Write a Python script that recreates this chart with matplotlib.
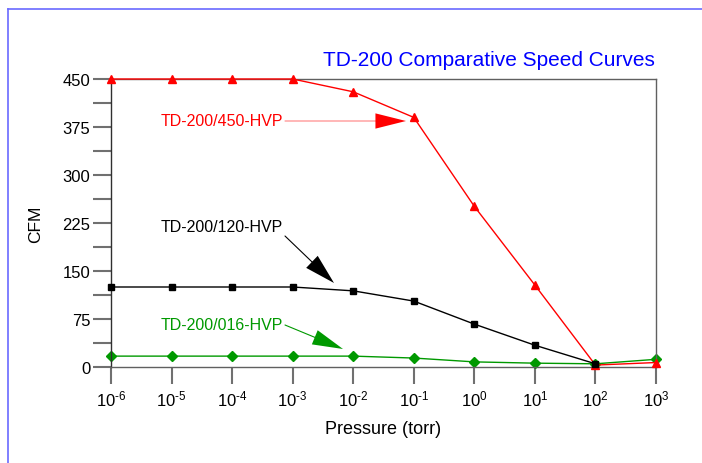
import numpy as np
import matplotlib
matplotlib.use("Agg")
import matplotlib.pyplot as plt
from matplotlib.lines import Line2D

plt.rcParams['font.family'] = ['Liberation Sans', 'DejaVu Sans']
plt.rcParams['mathtext.fontset'] = 'custom'
plt.rcParams['mathtext.rm'] = 'Liberation Sans'
plt.rcParams['mathtext.it'] = 'Liberation Sans'
plt.rcParams['axes.unicode_minus'] = False

# pressure in torr (decades)
exponents = np.arange(-6, 4)
pressure = 10.0 ** exponents

cfm_450 = [450, 450, 450, 450, 430, 390, 251, 128, 3, 7]
cfm_120 = [125, 125, 125, 125, 119, 103, 67, 34, 5]
cfm_016 = [17, 17, 17, 17, 17, 14, 8, 6, 5, 12]

labels = ['TD-200/450-HVP', 'TD-200/120-HVP', 'TD-200/016-HVP']
colors = ['#ff0000', '#000000', '#009900']
title = 'TD-200 Comparative Speed Curves'
yticks = [0, 75, 150, 225, 300, 375, 450]

W, H = 702, 464
fig = plt.figure(figsize=(W / 100, H / 100), dpi=100)
ax = fig.add_axes([111 / W, 1 - 368 / H, (656 - 111) / W, (368 - 80) / H])

# blue frame around the page
fig.add_artist(Line2D([8 / W, 1.0], [1 - 10 / H, 1 - 10 / H], color='#6a6aff', lw=1.2))
fig.add_artist(Line2D([8 / W, 8 / W], [0, 1 - 10 / H], color='#6a6aff', lw=1.2))

ax.plot(pressure, cfm_450, color=colors[0], lw=1.0, marker='^', ms=5.5, zorder=3, clip_on=False)
ax.plot(pressure[:len(cfm_120)], cfm_120, color=colors[1], lw=1.0, marker='s', ms=5, zorder=4, clip_on=False)
ax.plot(pressure, cfm_016, color=colors[2], lw=1.0, marker='D', ms=5, zorder=2, clip_on=False)

ax.set_xscale('log')
ax.set_xlim(pressure[0], pressure[-1])
ax.set_ylim(0, 450)
ax.set_xticks(pressure)
ax.set_xticklabels([r'$\mathregular{10^{\text{%d}}}$' % e for e in exponents], fontsize=12)
ax.xaxis.set_minor_locator(matplotlib.ticker.NullLocator())
ax.set_yticks(yticks)
ax.set_yticklabels([str(v) for v in yticks], fontsize=12)
ax.set_yticks(np.arange(37.5, 450, 75), minor=True)

ax.tick_params(axis='x', which='major', direction='out', length=12.5, width=1.5,
               color='#707070', pad=3)
ax.tick_params(axis='y', which='both', direction='out', length=13, width=1.5,
               color='#707070', pad=2)
ax.tick_params(axis='x', which='minor', length=0)

ax.spines['left'].set_color('#303030')
for s in ['top', 'right', 'bottom']:
    ax.spines[s].set_color('#606060')
for s in ax.spines.values():
    s.set_linewidth(1.0)

ax.set_xlabel('Pressure (torr)', fontsize=13, labelpad=8)
ax.set_ylabel('CFM', fontsize=12.5, labelpad=14)

fig.text(655 / W, 1 - 60 / H, title, color='#0000ff', fontsize=15,
         ha='right', va='center')

# callouts: label position, arrow start, arrow tip (image pixels)
callouts = [
    ((283, 122), (285, 122), (406, 122), '#ff8080', 2.2, 0.55),
    ((283, 228), (285, 237), (334, 284), '#000000', 2.2, 0.6),
    ((283, 326), (285, 326), (343, 350), '#009900', 2.2, 0.55),
]
for lab, col, (tp, st, tip, lcol, hl, hw) in zip(labels, colors, callouts):
    fig.text(tp[0] / W, 1 - tp[1] / H, lab, color=col, fontsize=11.5,
             ha='right', va='center')
    ax.annotate('', xy=(tip[0], H - tip[1]), xycoords='figure pixels',
                xytext=(st[0], H - st[1]), textcoords='figure pixels',
                arrowprops=dict(arrowstyle='-', color=lcol, lw=0.8,
                                shrinkA=0, shrinkB=20))
    ax.annotate('', xy=(tip[0], H - tip[1]), xycoords='figure pixels',
                xytext=(st[0], H - st[1]), textcoords='figure pixels',
                arrowprops=dict(arrowstyle='-|>,head_length=%g,head_width=%g' % (hl, hw),
                                color=col, lw=0.0, shrinkA=0, shrinkB=0,
                                mutation_scale=10))

fig.savefig('out.png', dpi=100)
